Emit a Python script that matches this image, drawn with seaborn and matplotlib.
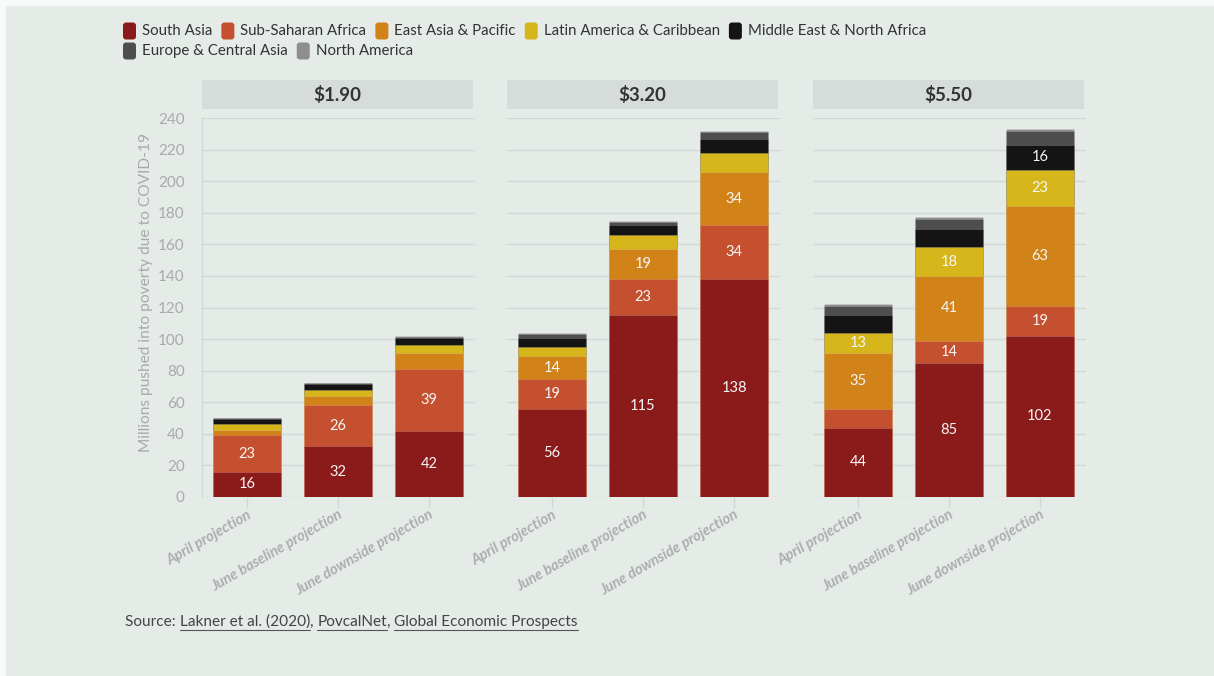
import numpy as np
import pandas as pd
import matplotlib
matplotlib.use("Agg")
import matplotlib.pyplot as plt
import seaborn as sns
from matplotlib.patches import FancyBboxPatch, Rectangle

# ---- data -------------------------------------------------------------
thresholds = ["$1.90", "$3.20", "$5.50"]
scenarios = ["April projection", "June baseline projection", "June downside projection"]
regions = ["South Asia", "Sub-Saharan Africa", "East Asia & Pacific",
           "Latin America & Caribbean", "Middle East & North Africa",
           "Europe & Central Asia", "North America"]
region_colors = ["#8b1a1a", "#c4502f", "#d1831a", "#d6b61a",
                 "#141414", "#4e4e4e", "#8e8e8e"]

# values in millions, ordered $1.90 (Apr, Jun base, Jun down), $3.20 (...), $5.50 (...)
south_asia = [16, 32, 42, 56, 115, 138, 44, 85, 102]
sub_saharan_africa = [23, 26, 39, 19, 23, 34, 12, 14, 19]
east_asia_pacific = [3.5, 6, 10, 14, 19, 34, 35, 41, 63]
latin_america = [3.5, 4, 5, 6, 9, 12, 13, 18, 23]
middle_east = [3.5, 3.5, 5, 6, 6, 9, 11, 12, 16]
europe_central_asia = [0.5, 0.5, 0.5, 2, 2, 4, 6, 6, 9]
north_america = [0.3, 0.3, 0.3, 1, 1, 1, 1, 1, 1]

y_ticks = [0, 20, 40, 60, 80, 100, 120, 140, 160, 180, 200, 220, 240]
y_label = "Millions pushed into poverty due to COVID-19"
source_parts = [("Source: ", False), ("Lakner et al. (2020)", True), (", ", False),
                ("PovcalNet", True), (", ", False), ("Global Economic Prospects", True)]

series = [south_asia, sub_saharan_africa, east_asia_pacific, latin_america,
          middle_east, europe_central_asia, north_america]

rows = []
for r_idx, (region, vals) in enumerate(zip(regions, series)):
    for k, v in enumerate(vals):
        rows.append({"threshold": thresholds[k // 3], "scenario": scenarios[k % 3],
                     "region": region, "order": r_idx, "value": v})
df = pd.DataFrame(rows)
df["top"] = df.groupby(["threshold", "scenario"])["value"].cumsum()
df["bottom"] = df["top"] - df["value"]

# ---- style ------------------------------------------------------------
BG = "#e5ece8"
GRID = "#d2d8d5"
TICK_TXT = "#a9a9a9"
sns.set_theme(style="white", rc={"figure.facecolor": BG, "axes.facecolor": BG})
plt.rcParams["font.family"] = ["Lato", "DejaVu Sans"]

W, H = 1214, 676
fig = plt.figure(figsize=(W / 100, H / 100), dpi=100, facecolor=BG)

overlay = fig.add_axes([0, 0, 1, 1])
overlay.set_xlim(0, W)
overlay.set_ylim(H, 0)
overlay.axis("off")
overlay.patch.set_visible(False)

# thin light frame on the top and left edges
overlay.add_patch(Rectangle((0, 0), W, 6, color="#f8faf9", lw=0))
overlay.add_patch(Rectangle((0, 0), 6, H, color="#f8faf9", lw=0))

panel_x0 = [201.5, 506.5, 812.5]
panel_w = 273
y_top, y_bot = 118, 497

for p, thr in enumerate(thresholds):
    x0 = panel_x0[p]
    ax = fig.add_axes([x0 / W, 1 - y_bot / H, panel_w / W, (y_bot - y_top) / H])
    ax.set_facecolor(BG)
    sub = df[df["threshold"] == thr]

    # stacked bars: draw cumulative totals from the top layer down
    for r_idx in range(len(regions) - 1, -1, -1):
        layer = sub[sub["order"] == r_idx]
        sns.barplot(data=layer, x="scenario", y="top", order=scenarios,
                    color=region_colors[r_idx], saturation=1, width=0.75,
                    errorbar=None, ax=ax, edgecolor=(1, 1, 1, 0.18), linewidth=0.6,
                    zorder=3)

    for _, row in sub.iterrows():
        if row["value"] >= 13:
            i = scenarios.index(row["scenario"])
            ax.text(i, row["bottom"] + row["value"] / 2, f"{row['value']:g}",
                    ha="center", va="center", color="#f6f6f6", fontsize=10.5,
                    zorder=5)

    ax.set_ylim(0, 240)
    ax.set_xlim(-0.5, 2.5)
    ax.set_yticks(y_ticks)
    ax.yaxis.grid(True, color=GRID, lw=1, zorder=0)
    ax.set_axisbelow(True)
    ax.set_xlabel("")
    ax.set_ylabel("")
    for s in ["top", "right", "bottom"]:
        ax.spines[s].set_visible(False)
    if p == 0:
        ax.spines["left"].set_color(GRID)
        ax.spines["left"].set_linewidth(1)
        ax.tick_params(axis="y", length=9, width=1, color=GRID, pad=3,
                       labelsize=11, labelcolor=TICK_TXT)
    else:
        ax.spines["left"].set_visible(False)
        ax.tick_params(axis="y", length=0, labelleft=False)
    ax.tick_params(axis="x", length=8, width=1, color=GRID, pad=0, bottom=True)
    ax.set_xticks(range(len(scenarios)))
    ax.set_xticklabels(scenarios, rotation=30, ha="right", rotation_mode="anchor",
                       fontsize=10.5, fontweight="bold", fontstyle="italic",
                       color="#adadad")

    # facet header
    overlay.add_patch(Rectangle((x0, 80), panel_w - 2, 29, color="#d6dcd9", lw=0))
    overlay.text(x0 + (panel_w - 2) / 2, 95, thr.replace("$", r"\$"), ha="center",
                 va="center", fontsize=13.5, fontweight="bold", color="#333333")

overlay.text(146, 292, y_label, rotation=90, ha="center", va="center",
             fontsize=11.2, color=TICK_TXT)

# ---- legend (flowing, two rows) ---------------------------------------
fig.canvas.draw()
renderer = fig.canvas.get_renderer()
legend_rows = [regions[:5], regions[5:]]
row_y = [31, 51]
for rr, names in enumerate(legend_rows):
    x = 123
    for name in names:
        c = region_colors[regions.index(name)]
        overlay.add_patch(FancyBboxPatch((x + 1.5, row_y[rr] - 7), 10, 14,
                                         boxstyle="round,pad=1.5,rounding_size=3",
                                         fc=c, ec="none"))
        t = overlay.text(x + 19, row_y[rr], name, ha="left", va="center",
                         fontsize=10.8, color="#333333")
        bb = t.get_window_extent(renderer)
        x = x + 19 + bb.width + 9

# ---- source line with underlined links ---------------------------------
x = 125
sy = 622
for text, link in source_parts:
    t = overlay.text(x, sy, text, ha="left", va="center", fontsize=11.1,
                     color="#444444")
    bb = t.get_window_extent(renderer)
    if link:
        overlay.plot([x, x + bb.width], [sy + 8, sy + 8], color="#555555", lw=0.8)
    x += bb.width

fig.savefig("out.png", dpi=100, facecolor=BG)
